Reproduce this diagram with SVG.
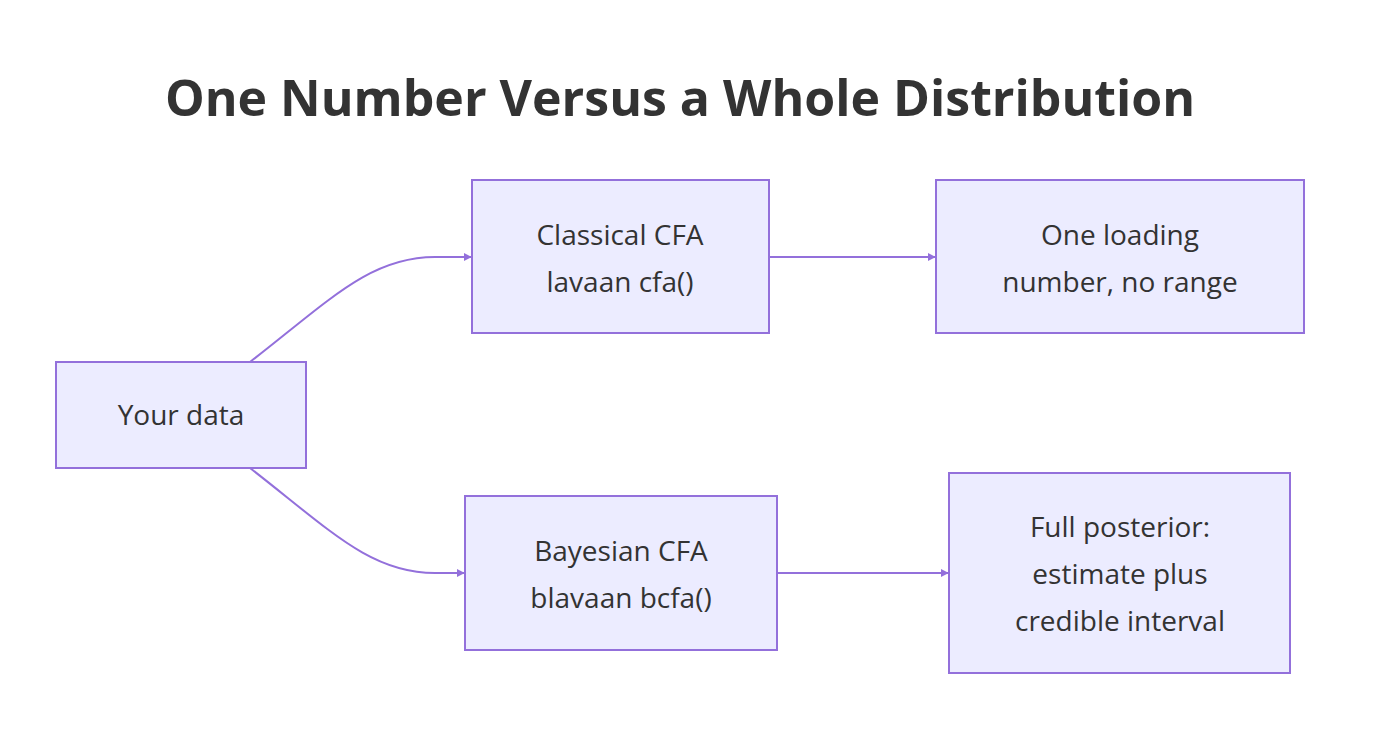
<svg xmlns="http://www.w3.org/2000/svg" width="1376" height="738" viewBox="0 0 1376 738">
<style>
.n rect{fill:#ECECFF;stroke:#9370DB;stroke-width:2}
.n text{font-family:"Open Sans","Noto Sans",sans-serif;font-size:28px;fill:#333;text-anchor:middle}
.e path{fill:none;stroke:#9370DB;stroke-width:2;marker-end:url(#a)}
</style>
<defs><marker id="a" viewBox="0 0 10 10" refX="9" refY="5" markerWidth="8" markerHeight="8" markerUnits="userSpaceOnUse" orient="auto"><path d="M0,0L10,5L0,10z" fill="#9370DB"/></marker></defs>
<rect width="1376" height="738" fill="#fff"/>
<text x="680" y="116" font-family="Open Sans,Noto Sans,sans-serif" font-size="50" font-weight="bold" fill="#333" text-anchor="middle">One Number Versus a Whole Distribution</text>
<g class="e">
<path d="M250,362 C330,300 370,257 435,257 L471,257"/>
<path d="M250,468 C330,530 370,573 435,573 L464,573"/>
<path d="M769,257 L935,257"/>
<path d="M777,573 L948,573"/>
</g>
<g id="data" class="n"><rect x="56" y="362" width="250" height="106"/><text x="181" y="425">Your data</text></g>
<g id="classical" class="n"><rect x="472" y="180" width="297" height="153"/><text x="620" y="245">Classical CFA</text><text x="620" y="292">lavaan cfa()</text></g>
<g id="one" class="n"><rect x="936" y="180" width="368" height="153"/><text x="1120" y="245">One loading</text><text x="1120" y="292">number, no range</text></g>
<g id="bayes" class="n"><rect x="465" y="496" width="312" height="154"/><text x="621" y="561">Bayesian CFA</text><text x="621" y="608">blavaan bcfa()</text></g>
<g id="full" class="n"><rect x="949" y="473" width="341" height="200"/><text x="1120" y="537">Full posterior:</text><text x="1120" y="584">estimate plus</text><text x="1120" y="631">credible interval</text></g>
</svg>
